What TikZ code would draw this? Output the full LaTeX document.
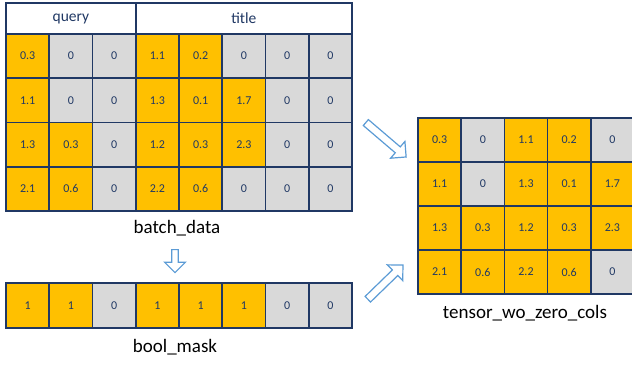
\documentclass[tikz,border=0pt]{standalone}
\usepackage{fontspec}
\setmainfont{Carlito}
\usetikzlibrary{shapes.arrows}

\definecolor{cellorange}{HTML}{FFC000}
\definecolor{cellgray}{HTML}{D9D9D9}
\definecolor{gridnavy}{HTML}{203864}
\definecolor{arrowblue}{HTML}{5B9BD5}

\begin{document}
\begin{tikzpicture}[
    x=1pt, y=-1pt,
    cell/.style={
      rectangle,
      draw=gridnavy,
      line width=1.6pt,
      minimum width=43.25pt,
      minimum height=44.25pt,
      inner sep=0pt,
      text=gridnavy,
      font=\fontsize{12}{13}\selectfont
    },
    headcell/.style={
      cell,
      fill=white,
      minimum height=31pt,
      font=\fontsize{15.5}{17}\selectfont
    },
    caption/.style={
      inner sep=0pt,
      font=\fontsize{19}{22}\selectfont
    },
    hollow/.style={
      single arrow,
      draw=arrowblue,
      fill=white,
      line width=1.2pt,
      inner xsep=0pt,
      sloped,
      allow upside down
    }
    ]
    \clip (0,0) rectangle (632,365);

    % batch_data
    \node[headcell, minimum width=129.75pt] (query) at (70.875,18.5) {query};
    \node[headcell, minimum width=216.25pt] (title) at (243.875,18.5) {title};
    \foreach \r/\vals in {1/{0.3,0,0,1.1,0.2,0,0,0},
                          2/{1.1,0,0,1.3,0.1,1.7,0,0},
                          3/{1.3,0.3,0,1.2,0.3,2.3,0,0},
                          4/{2.1,0.6,0,2.2,0.6,0,0,0}}{
      \foreach \v [count=\c] in \vals {
        \ifdim \v pt=0pt \def\shade{cellgray}\else \def\shade{cellorange}\fi
        \node[cell, fill=\shade] (b-\r-\c) at ({6+43.25*(\c-0.5)},{34+44.25*(\r-0.5)}) {\v};
      }
    }
    \node[caption] (batchlbl) at (177,228) {batch\_data};

    % bool_mask
    \foreach \v [count=\c] in {1,1,0,1,1,1,0,0}{
      \ifdim \v pt=0pt \def\shade{cellgray}\else \def\shade{cellorange}\fi
      \node[cell, fill=\shade, minimum height=45pt] (m-\c) at ({6+43.25*(\c-0.5)},305.5) {\v};
    }
    \node[caption] (masklbl) at (175,347) {bool\_mask};

    % tensor_wo_zero_cols
    \foreach \r/\vals in {1/{0.3,0,1.1,0.2,0},
                          2/{1.1,0,1.3,0.1,1.7},
                          3/{1.3,0.3,1.2,0.3,2.3},
                          4/{2.1,0.6,2.2,0.6,0}}{
      \foreach \v [count=\c] in \vals {
        \ifdim \v pt=0pt \def\shade{cellgray}\else \def\shade{cellorange}\fi
        \node[cell, fill=\shade, minimum width=43.2pt, minimum height=44pt] (t-\r-\c) at ({418+43.2*(\c-0.5)},{118+44*(\r-0.5)}) {\v};
      }
    }
    \node[caption] (tensorlbl) at (525,313) {tensor\_wo\_zero\_cols};

    % arrows
    \coordinate (down-tail) at (175,248);
    \coordinate (down-tip) at (175,271);
    \coordinate (diag-tail) at (364,121);
    \coordinate (diag-tip) at (405,156);
    \coordinate (rise-tail) at (366,301);
    \coordinate (rise-tip) at (402,266);
    \path (down-tail) -- node[hollow, inner ysep=2.6pt, minimum height=23pt, minimum width=12.5pt] (toMask) {} (down-tip);
    \path (diag-tail) -- node[hollow, inner ysep=3.3pt, minimum height=53pt, minimum width=15pt] (toTensor) {} (diag-tip);
    \path (rise-tail) -- node[hollow, inner ysep=3.3pt, minimum height=49pt, minimum width=15pt] (maskToTensor) {} (rise-tip);
  \end{tikzpicture}
\end{document}
